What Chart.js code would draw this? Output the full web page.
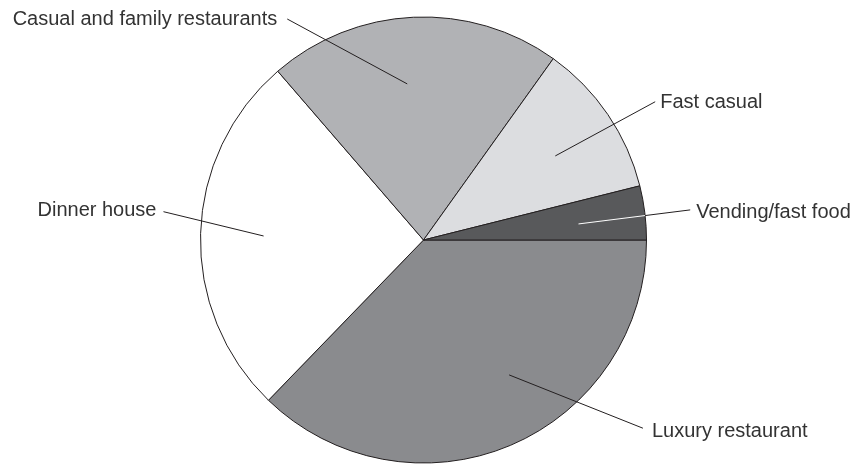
<!DOCTYPE html>
<html>
<head>
<meta charset="utf-8">
<script src="https://cdn.jsdelivr.net/npm/chart.js@4/dist/chart.umd.min.js"></script>
<style>
  html, body { margin: 0; padding: 0; background: #fff; }
  #wrap { width: 857px; height: 464px; }
</style>
</head>
<body>
<div id="wrap"><canvas id="pie"></canvas></div>
<script>
//--Data (clockwise from 3 o'clock)----------------------------
var categories = ['Luxury restaurant', 'Dinner house', 'Casual and family restaurants', 'Fast casual', 'Vending/fast food'];
var shares = [37.2, 26.4, 21.2, 11.2, 3.9];

//--Styles----------------------------
var sliceColors = ['#8a8b8e', '#ffffff', '#b1b2b5', '#dcdde0', '#58595b'];
var edgeColor = '#231f20';
var textColor = '#333333';

// leader lines, in units of the pie radius, relative to its centre
var leaders = [
    { inner: [0.384, 0.605],   outer: [0.984, 0.844],   align: 'left',  dx: 9,   dy: 9, innerColor: edgeColor },
    { inner: [-0.717, -0.018], outer: [-1.166, -0.127], align: 'right', dx: -7,  dy: 4, innerColor: edgeColor },
    { inner: [-0.073, -0.700], outer: [-0.611, -0.991], align: 'right', dx: -10, dy: 6, innerColor: edgeColor },
    { inner: [0.591, -0.377],  outer: [1.039, -0.620],  align: 'left',  dx: 5,   dy: 6, innerColor: edgeColor },
    { inner: [0.695, -0.072],  outer: [1.196, -0.135],  align: 'left',  dx: 6,   dy: 8, innerColor: '#ffffff' }
];

//--Plugin: labels with leader lines----------------------------
var leaderLabels = {
    id: 'leaderLabels',
    afterDatasetsDraw: function(chart) {
        var ctx = chart.ctx;
        var arc = chart.getDatasetMeta(0).data[0];
        var cx = arc.x, cy = arc.y, R = arc.outerRadius;
        ctx.save();
        ctx.lineWidth = 1;
        ctx.font = '20px "Liberation Sans", Arial, sans-serif';
        ctx.textBaseline = 'alphabetic';
        leaders.forEach(function(l, i) {
            var ix = l.inner[0], iy = l.inner[1];
            var ox = l.outer[0], oy = l.outer[1];
            // where the segment crosses the pie edge
            var dx = ox - ix, dy = oy - iy;
            var a = dx * dx + dy * dy, b = 2 * (ix * dx + iy * dy), c = ix * ix + iy * iy - 1;
            var t = (-b + Math.sqrt(b * b - 4 * a * c)) / (2 * a);
            var ex = ix + dx * t, ey = iy + dy * t;

            ctx.strokeStyle = l.innerColor;
            ctx.beginPath();
            ctx.moveTo(cx + ix * R, cy + iy * R);
            ctx.lineTo(cx + ex * R, cy + ey * R);
            ctx.stroke();

            ctx.strokeStyle = edgeColor;
            ctx.beginPath();
            ctx.moveTo(cx + ex * R, cy + ey * R);
            ctx.lineTo(cx + ox * R, cy + oy * R);
            ctx.stroke();

            ctx.fillStyle = textColor;
            ctx.textAlign = l.align;
            ctx.fillText(categories[i], cx + ox * R + l.dx, cy + oy * R + l.dy);
        });
        ctx.restore();
    }
};

var ctx = document.getElementById('pie').getContext('2d');
var myChart = new Chart(ctx, {
    type: 'pie',
    data: {
        labels: categories,
        datasets: [{
            data: shares,
            backgroundColor: sliceColors,
            borderColor: edgeColor,
            borderWidth: 1,
            borderAlign: 'center'
        }]
    },
    options: {
        responsive: true,
        maintainAspectRatio: false,
        animation: false,
        rotation: 90,
        radius: 223,
        layout: { padding: { left: 0, right: 10, top: 16, bottom: 0 } },
        plugins: {
            legend: { display: false },
            tooltip: { enabled: false }
        }
    },
    plugins: [leaderLabels]
});
</script>
</body>
</html>
